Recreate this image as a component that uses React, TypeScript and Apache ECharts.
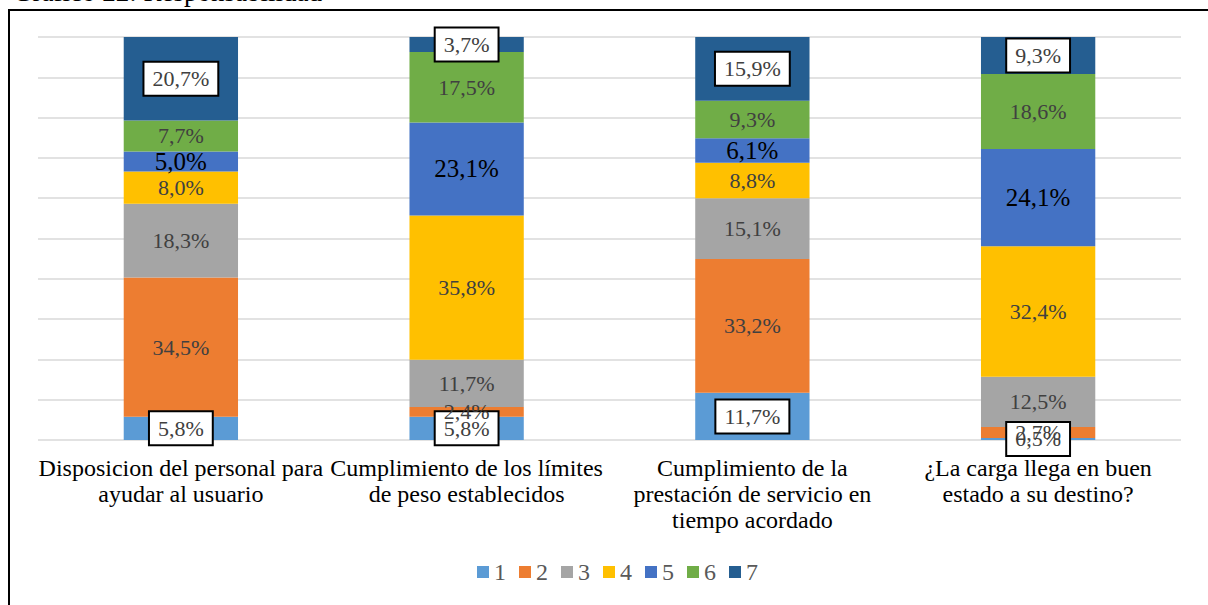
import React, { useEffect, useRef } from "react";
import * as echarts from "echarts";

const categories = [
  "Disposicion del personal para\nayudar al usuario",
  "Cumplimiento de los límites\nde peso establecidos",
  "Cumplimiento de la\nprestación de servicio en\ntiempo acordado",
  "¿La carga llega en buen\nestado a su destino?",
];
const seriesNames = ["1", "2", "3", "4", "5", "6", "7"];
const s1 = [5.8, 5.8, 11.7, 0.5];
const s2 = [34.5, 2.4, 33.2, 2.7];
const s3 = [18.3, 11.7, 15.1, 12.5];
const s4 = [8.0, 35.8, 8.8, 32.4];
const s5 = [5.0, 23.1, 6.1, 24.1];
const s6 = [7.7, 17.5, 9.3, 18.6];
const s7 = [20.7, 3.7, 15.9, 9.3];
const seriesValues = [s1, s2, s3, s4, s5, s6, s7];
const colors = ["#5B9BD5", "#ED7D31", "#A5A5A5", "#FFC000", "#4472C4", "#70AD47", "#255E91"];
const titleText = "Gráfico 22: Responsabilidad";

const FONT = "'Liberation Serif', 'Times New Roman', serif";

export default function App() {
  const ref = useRef<HTMLDivElement>(null);
  useEffect(() => {
    document.body.style.margin = "0";
    if (!ref.current) return;
    const chart = echarts.init(ref.current, null, { renderer: "svg" });
    const fmt = (p: any) => p.value.toFixed(1).replace(".", ",") + "%";
    const series = seriesValues.map((vals, i) => {
      const boxed = i === 0 || i === 6;
      const big = i === 4;
      const label: any = {
        show: true,
        position: "inside",
        formatter: fmt,
        fontFamily: FONT,
        fontSize: big ? 25 : 22,
        color: big ? "#000000" : "#404040",
      };
      if (boxed) {
        label.backgroundColor = "#ffffff";
        label.borderColor = "#000000";
        label.borderWidth = 2;
        label.padding = [6, 8, 4, 8];
      }
      return {
        name: seriesNames[i],
        type: "bar",
        stack: "total",
        barCategoryGap: "60%",
        data: vals,
        itemStyle: { color: colors[i] },
        label,
      };
    });
    chart.setOption({
      animation: false,
      color: colors,
      grid: { left: 38, right: 27, top: 37, bottom: 165, containLabel: false },
      xAxis: {
        type: "category",
        data: categories,
        axisLine: { show: false },
        axisTick: { show: false },
        axisLabel: {
          interval: 0,
          fontFamily: FONT,
          fontSize: 24,
          lineHeight: 26,
          color: "#000000",
          margin: 15,
        },
      },
      yAxis: {
        type: "value",
        min: 0,
        max: 100,
        interval: 10,
        axisLabel: { show: false },
        axisLine: { show: false },
        axisTick: { show: false },
        splitLine: { lineStyle: { color: "#D9D9D9", width: 1.5 } },
      },
      legend: {
        bottom: 16,
        left: 472,
        itemWidth: 12,
        itemHeight: 12,
        itemGap: 13,
        icon: "rect",
        textStyle: { fontFamily: FONT, fontSize: 24, color: "#595959" },
        data: seriesNames,
      },
      graphic: [
        {
          type: "rect",
          shape: { x: 9, y: 10, width: 1210, height: 610 },
          style: { fill: "none", stroke: "#000000", lineWidth: 2 },
          silent: true,
        },
        {
          type: "text",
          x: 13,
          y: 5,
          style: {
            text: titleText,
            fontFamily: FONT,
            fontSize: 27,
            fill: "#000000",
            verticalAlign: "bottom",
          },
        },
      ],
      series,
    });
    return () => chart.dispose();
  }, []);
  return <div ref={ref} style={{ width: 1208, height: 605 }} />;
}
